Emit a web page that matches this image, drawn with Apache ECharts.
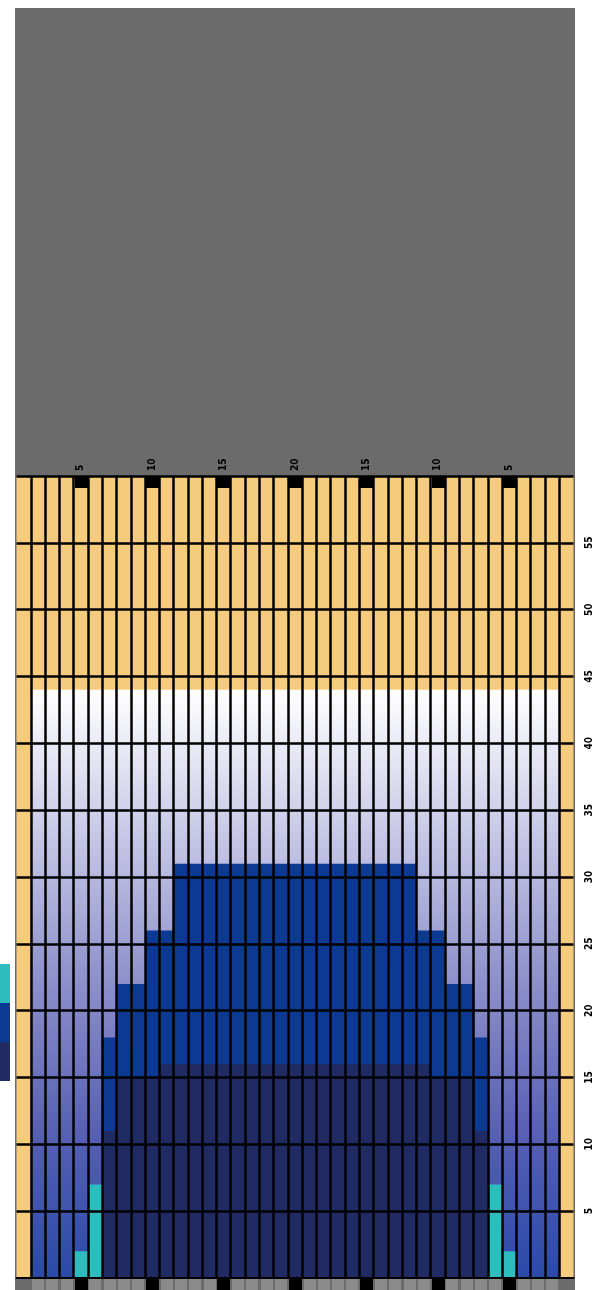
<!DOCTYPE html>
<html>
<head>
<meta charset="utf-8">
<script src="https://cdn.jsdelivr.net/npm/echarts@6/dist/echarts.min.js"></script>
<style>
html,body{margin:0;padding:0;background:#ffffff;}
#main{width:607px;height:1290px;}
</style>
</head>
<body>
<div id="main"></div>
<script>
// Categories: 1..20..1 (39 columns)
const categories = ['1','2','3','4','5','6','7','8','9','10','11','12','13','14','15','16','17','18','19','20',
                    '19','18','17','16','15','14','13','12','11','10','9','8','7','6','5','4','3','2','1'];

// gradient base bars
const baseValues = ['-',44,44,44,44,44,44,44,44,44,44,44,44,44,44,44,44,44,44,44,
                    44,44,44,44,44,44,44,44,44,44,44,44,44,44,44,44,44,44,'-'];

// blue series
const blueValues = ['-','-','-','-','-','-',18,22,22,26,26,31,31,31,31,31,31,31,31,31,
                    31,31,31,31,31,31,31,31,26,26,22,22,18,'-','-','-','-','-','-'];

// navy series
const navyValues = ['-','-','-','-','-','-',11,15,15,15,16,16,16,16,16,16,16,16,16,16,
                    16,16,16,16,16,16,16,16,16,15,15,15,11,'-','-','-','-','-','-'];

// teal series
const tealValues = ['-','-','-','-',2,7,'-','-','-','-','-','-','-','-','-','-','-','-','-','-',
                    '-','-','-','-','-','-','-','-','-','-','-','-','-',7,2,'-','-','-','-'];

// value-axis labels shown
const yTickLabels = [5,10,15,20,25,30,35,40,45,50,55];

const seriesNames = ['Teal', 'Blue', 'Navy'];

const chart = echarts.init(document.getElementById('main'));

const labelIdx = (i) => (i + 1) % 5 === 0;
const labelFont = 'DejaVu Sans Condensed, Liberation Sans Narrow, sans-serif';

const option = {
  animation: false,
  backgroundColor: '#ffffff',
  legend: {
    orient: 'vertical',
    right: 592,
    top: 959,
    itemWidth: 30,
    itemHeight: 39,
    itemGap: 0,
    align: 'right',
    icon: 'rect',
    data: seriesNames,
    textStyle: { fontSize: 12, color: '#000' }
  },
  grid: [
    { left: 15, right: 32, top: 8, bottom: 0, show: true, backgroundColor: '#6b6b6b', borderWidth: 0, z: 0 },
    { left: 16.5, right: 33.5, top: 476, bottom: 12, show: true, backgroundColor: '#f5cc7e', borderWidth: 0, z: 1 }
  ],
  xAxis: [
    { gridIndex: 0, type: 'category', data: categories, show: false },
    {
      gridIndex: 1, type: 'category', data: categories, position: 'top', z: 5,
      axisLine: { show: true, lineStyle: { color: '#000', width: 2 } },
      axisTick: { show: false },
      axisLabel: { show: true, interval: labelIdx, rotate: 90, margin: 5, fontSize: 10, fontWeight: 'bold',
                   color: '#000', fontFamily: labelFont },
      splitLine: { show: true, interval: 0, showMinLine: false, showMaxLine: false,
                   lineStyle: { color: '#000', width: 2.5 } }
    },
    {
      gridIndex: 1, type: 'category', data: categories, position: 'bottom', z: 3,
      axisLine: { show: false },
      axisLabel: { show: false },
      splitLine: { show: false },
      axisTick: { show: true, length: 12, alignWithLabel: true, interval: (i) => i > 0 && i < 38,
                  lineStyle: { color: '#8a8a8a', width: 12 } }
    },
    {
      gridIndex: 1, type: 'category', data: categories, position: 'bottom', z: 4,
      axisLine: { show: false },
      axisLabel: { show: false },
      splitLine: { show: false },
      axisTick: { show: true, length: 12, alignWithLabel: true, interval: labelIdx,
                  lineStyle: { color: '#000', width: 13 } }
    },
    {
      gridIndex: 1, type: 'category', data: categories, position: 'top', z: 6,
      axisLine: { show: false },
      axisLabel: { show: false },
      splitLine: { show: false },
      axisTick: { show: true, inside: true, length: 12, alignWithLabel: true, interval: labelIdx,
                  lineStyle: { color: '#000', width: 13 } }
    }
  ],
  yAxis: [
    { gridIndex: 0, type: 'value', show: false },
    {
      gridIndex: 1, type: 'value', min: 0, max: 60, interval: 5, position: 'right', z: 5,
      axisLine: { show: false },
      axisTick: { show: false },
      axisLabel: { show: true, rotate: 90, margin: 11, fontSize: 10, fontWeight: 'bold', color: '#000',
                   fontFamily: labelFont,
                   formatter: (v) => yTickLabels.indexOf(v) >= 0 ? String(v) : '' },
      splitLine: { show: true, showMinLine: false, lineStyle: { color: '#000', width: 2.5 } }
    }
  ],
  series: [
    {
      name: 'Base', type: 'bar', xAxisIndex: 1, yAxisIndex: 1, data: baseValues,
      barWidth: '100%', barGap: '-100%',
      itemStyle: {
        color: new echarts.graphic.LinearGradient(0, 0, 0, 1, [
          { offset: 0, color: '#ffffff' },
          { offset: 0.25, color: '#c6c7e6' },
          { offset: 0.5, color: '#8c8fca' },
          { offset: 0.75, color: '#5760b4' },
          { offset: 1, color: '#2a4aa8' }
        ])
      },
      z: 2
    },
    {
      name: seriesNames[1], type: 'bar', xAxisIndex: 1, yAxisIndex: 1, data: blueValues,
      barWidth: '100%', barGap: '-100%', itemStyle: { color: '#0c3a92' }, z: 2
    },
    {
      name: seriesNames[2], type: 'bar', xAxisIndex: 1, yAxisIndex: 1, data: navyValues,
      barWidth: '100%', barGap: '-100%', itemStyle: { color: '#1f2b62' }, z: 2
    },
    {
      name: seriesNames[0], type: 'bar', xAxisIndex: 1, yAxisIndex: 1, data: tealValues,
      barWidth: '100%', barGap: '-100%', itemStyle: { color: '#2ebdbf' }, z: 2
    }
  ]
};

chart.setOption(option);
</script>
</body>
</html>
